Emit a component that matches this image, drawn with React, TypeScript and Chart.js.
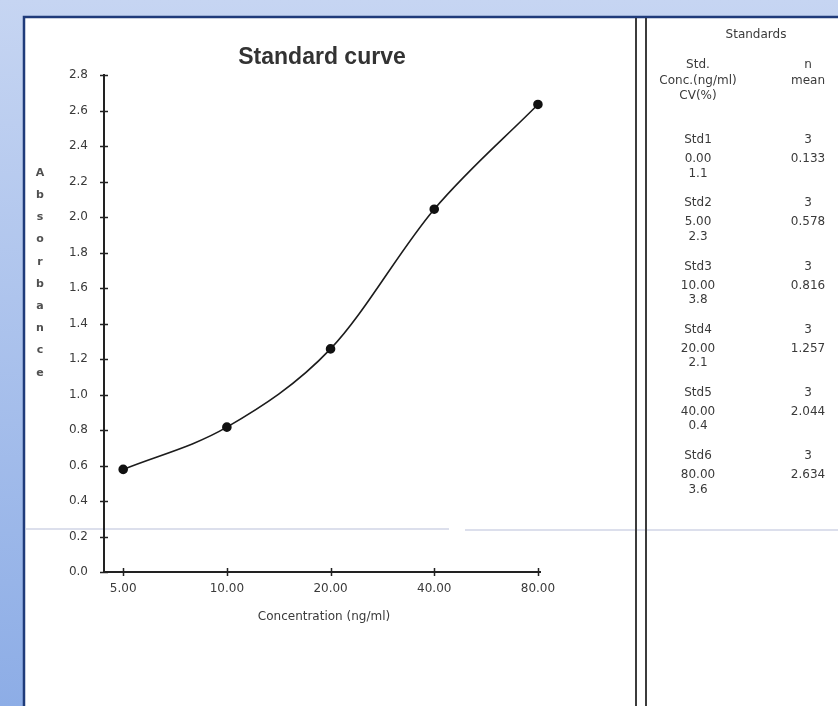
import React, { useEffect, useRef } from "react";
import { Chart, registerables } from "chart.js";

Chart.register(...registerables);

// ---- data ----
const concLabels = ["5.00", "10.00", "20.00", "40.00", "80.00"];
const absorbance = [0.578, 0.816, 1.257, 2.044, 2.634];
const yMin = 0;
const yMax = 2.8;
const yStep = 0.2;
const chartTitle = "Standard curve";
const xTitle = "Concentration (ng/ml)";
const yTitle = "Absorbance";

const tableTitle = "Standards";
const headerCol1 = ["Std.", "Conc.(ng/ml)", "CV(%)"];
const headerCol2 = ["n", "mean"];
const stdNames = ["Std1", "Std2", "Std3", "Std4", "Std5", "Std6"];
const stdConc = ["0.00", "5.00", "10.00", "20.00", "40.00", "80.00"];
const stdCV = ["1.1", "2.3", "3.8", "2.1", "0.4", "3.6"];
const stdN = ["3", "3", "3", "3", "3", "3"];
const stdMean = ["0.133", "0.578", "0.816", "1.257", "2.044", "2.634"];

const W = 838;
const H = 706;
const FONT = "'DejaVu Sans', sans-serif";
const TEXT = "#3a3a3a";

const decorPlugin = {
  id: "decor",
  beforeDraw(chart: any) {
    const ctx = chart.ctx;
    ctx.save();
    const g = ctx.createLinearGradient(0, 0, 0, H);
    g.addColorStop(0, "#c6d5f2");
    g.addColorStop(1, "#8dade6");
    ctx.fillStyle = g;
    ctx.fillRect(0, 0, W, H);
    // page
    ctx.fillStyle = "#ffffff";
    ctx.fillRect(24, 17, W - 24, H - 17);
    ctx.strokeStyle = "#1f3b7a";
    ctx.lineWidth = 2.5;
    ctx.beginPath();
    ctx.moveTo(24, H + 5);
    ctx.lineTo(24, 17);
    ctx.lineTo(W + 5, 17);
    ctx.stroke();
    // scan artefact line
    ctx.strokeStyle = "rgba(150,160,200,0.45)";
    ctx.lineWidth = 1.5;
    ctx.beginPath();
    ctx.moveTo(26, 529);
    ctx.lineTo(449, 529);
    ctx.moveTo(465, 530);
    ctx.lineTo(W, 530);
    ctx.stroke();
    // double vertical lines
    ctx.strokeStyle = "#3c3c3c";
    ctx.lineWidth = 2;
    ctx.beginPath();
    ctx.moveTo(636, 18);
    ctx.lineTo(636, H);
    ctx.moveTo(646, 18);
    ctx.lineTo(646, H);
    ctx.stroke();
    ctx.restore();
  },
  afterDraw(chart: any) {
    const ctx = chart.ctx;
    const xs = chart.scales.x;
    const ys = chart.scales.y;
    const ca = chart.chartArea;
    ctx.save();
    // crossing tick marks
    ctx.strokeStyle = "#222";
    ctx.lineWidth = 1.5;
    ctx.beginPath();
    ys.ticks.forEach((t: any) => {
      const py = Math.round(ys.getPixelForValue(t.value)) + 0.5;
      ctx.moveTo(ca.left - 4, py);
      ctx.lineTo(ca.left + 4, py);
    });
    xs.ticks.forEach((t: any) => {
      const px = Math.round(xs.getPixelForValue(t.value)) + 0.5;
      ctx.moveTo(px, ca.bottom - 4);
      ctx.lineTo(px, ca.bottom + 4);
    });
    ctx.stroke();

    // title
    ctx.fillStyle = "#333";
    ctx.textAlign = "center";
    ctx.textBaseline = "middle";
    ctx.font = "bold 23px 'Liberation Sans', Arial, sans-serif";
    ctx.fillText(chartTitle, (ca.left + ca.right) / 2, 58);

    // x title
    ctx.fillStyle = TEXT;
    ctx.font = `12px ${FONT}`;
    ctx.fillText(xTitle, (ca.left + ca.right) / 2 + 2, 617);

    // y title stacked letters
    ctx.font = `bold 11px ${FONT}`;
    ctx.fillStyle = "#505050";
    yTitle.split("").forEach((ch, i) => {
      ctx.fillText(ch, 40, 173 + i * 22.2);
    });

    // table
    ctx.fillStyle = TEXT;
    ctx.font = `12px ${FONT}`;
    ctx.fillText(tableTitle, 756, 35);
    headerCol1.forEach((s, i) => ctx.fillText(s, 698, 65 + i * 15.5));
    headerCol2.forEach((s, i) => ctx.fillText(s, 808, 65 + i * 15.5));
    stdNames.forEach((name, i) => {
      const y0 = 140 + i * 63.2;
      ctx.fillText(name, 698, y0);
      ctx.fillText(stdConc[i], 698, y0 + 19);
      ctx.fillText(stdCV[i], 698, y0 + 33.5);
      ctx.fillText(stdN[i], 808, y0);
      ctx.fillText(stdMean[i], 808, y0 + 19);
    });
    ctx.restore();
  },
};

export default function App() {
  const ref = useRef<HTMLCanvasElement | null>(null);
  useEffect(() => {
    if (!ref.current) return;
    const chart = new Chart(ref.current, {
      type: "line",
      data: {
        datasets: [
          {
            data: absorbance.map((v, i) => ({ x: i, y: v })),
            borderColor: "#1c1c1c",
            borderWidth: 1.6,
            backgroundColor: "#111",
            pointBackgroundColor: "#111",
            pointBorderColor: "#111",
            pointRadius: 4,
            cubicInterpolationMode: "monotone",
            fill: false,
            clip: false,
          },
        ],
      },
      options: {
        responsive: false,
        animation: false,
        devicePixelRatio: 1,
        layout: {
          autoPadding: false,
          padding: { left: 0, top: 75, right: W - 540, bottom: 104 },
        },
        plugins: {
          legend: { display: false },
          tooltip: { enabled: false },
          title: { display: false },
        },
        scales: {
          x: {
            type: "linear",
            min: -0.185,
            max: 4.02,
            afterFit: (s: any) => {
              s.height = 30;
            },
            afterBuildTicks: (s: any) => {
              s.ticks = concLabels.map((_, i) => ({ value: i }));
            },
            grid: { display: true, drawOnChartArea: false, drawTicks: false },
            border: { display: true, color: "#222", width: 2 },
            ticks: {
              padding: 10,
              color: TEXT,
              font: { family: "'DejaVu Sans', sans-serif", size: 12 },
              maxRotation: 0,
              callback: (v: any) => concLabels[Math.round(v)] ?? "",
            },
          },
          y: {
            type: "linear",
            min: yMin,
            max: yMax,
            afterFit: (s: any) => {
              s.width = 104;
            },
            grid: { display: true, drawOnChartArea: false, drawTicks: false },
            border: { display: true, color: "#222", width: 2 },
            ticks: {
              stepSize: yStep,
              padding: 16,
              color: TEXT,
              font: { family: "'DejaVu Sans', sans-serif", size: 12 },
              callback: (v: any) => Number(v).toFixed(1),
            },
          },
        },
      },
      plugins: [decorPlugin],
    } as any);
    return () => chart.destroy();
  }, []);
  return (
    <div style={{ position: "fixed", left: 0, top: 0, width: W, height: H }}>
      <canvas ref={ref} width={W} height={H} style={{ display: "block" }} />
    </div>
  );
}
